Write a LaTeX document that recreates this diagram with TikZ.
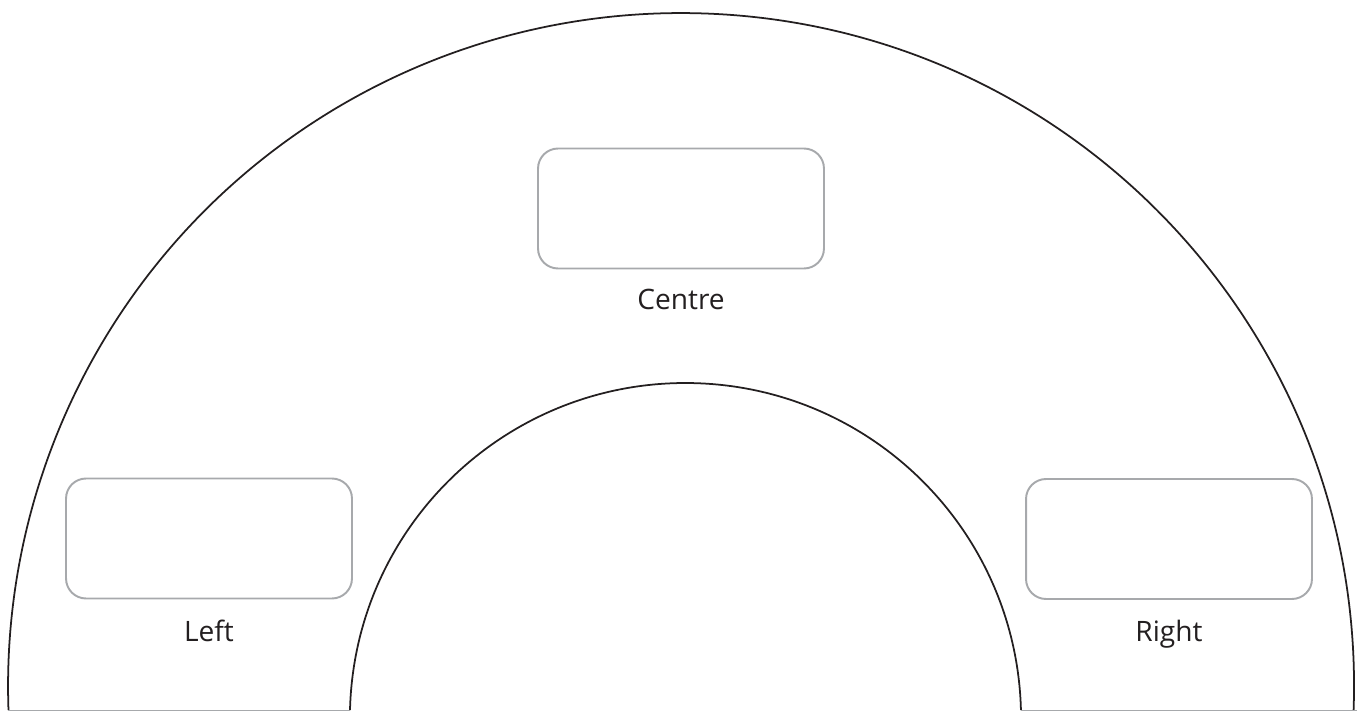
\documentclass[tikz,border=0pt]{standalone}
\usepackage{fontspec}
\setmainfont{Open Sans}
\usetikzlibrary{calc, positioning}
\definecolor{ink}{HTML}{231F20}
\definecolor{boxgrey}{HTML}{A7A9AC}

\begin{document}
\begin{tikzpicture}[
    x=0.02cm, y=0.02cm,
    zone/.style={draw=boxgrey, line width=1.1pt, rounded corners=0.4cm, minimum width=5.72cm, minimum height=2.4cm},
    tag/.style={anchor=base, text=ink, font=\fontsize{16}{19}\selectfont},
    rim/.style={draw=ink, line width=1pt}
]
\useasboundingbox (0,0) rectangle (1357,711);

% the two arcs of the stage
\draw[rim] (1353.6,1) arc[start angle=-2.04, end angle=182.04, radius=673];
\draw[rim] (350,1) arc[start angle=178.53, end angle=1.47, radius=335.6];
\draw[boxgrey, line width=0.5pt] (8.4,1) -- (350,1);
\draw[boxgrey, line width=0.5pt] (1021,1) -- (1357,1);

% positions
\node[zone] (centre) at (681,502.5) {};
\node[zone] (left) at (209,172.5) {};
\node[zone] (right) at (1169,172) {};

\node[tag] (centretag) at ($(centre.south)+(0,-40)$) {Centre};
\node[tag] (lefttag) at ($(left.south)+(0,-42)$) {Left};
\node[tag] (righttag) at ($(right.south)+(0,-42)$) {Right};
\end{tikzpicture}
\end{document}
